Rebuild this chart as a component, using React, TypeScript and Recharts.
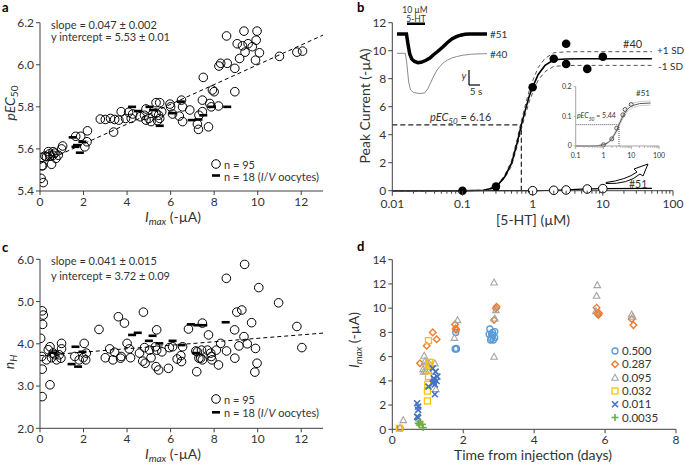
import React from 'react';
import { ComposedChart, Scatter, Line, XAxis, YAxis, ReferenceLine } from 'recharts';

const FONT = 'Lato, "Open Sans", sans-serif';
const AXIS = '#404040';
const TXT = '#333';

// ---- panel a: pEC50 vs Imax ----
const aCircles = [
  [0.05, 5.46], [0.15, 5.44], [0.08, 5.52], [0.12, 5.52], [0.08, 5.56], [0.23, 5.566], [0.43, 5.576], [0.6, 5.587],
  [0.46, 5.566], [0.53, 5.527], [0.73, 5.555], [0.84, 5.57], [0.99, 5.6], [1.04, 5.614], [0.6, 5.57], [0.3, 5.563],
  [0.38, 5.587], [0.68, 5.58], [1.64, 5.66], [1.87, 5.66], [2.06, 5.61], [2.16, 5.634], [2.18, 5.686], [2.77, 5.742],
  [3.0, 5.74], [3.24, 5.745], [3.43, 5.74], [3.38, 5.68], [3.62, 5.737], [3.73, 5.777], [3.93, 5.745], [4.07, 5.774],
  [4.19, 5.745], [4.26, 5.766], [4.6, 5.753], [4.8, 5.76], [4.87, 5.79], [4.87, 5.737], [5.0, 5.745], [5.1, 5.73],
  [5.33, 5.77], [5.4, 5.734], [5.33, 5.82], [5.5, 5.82], [5.59, 5.777], [5.5, 5.745], [5.45, 5.76], [5.97, 5.813],
  [6.0, 5.8], [6.09, 5.766], [6.4, 5.756], [6.5, 5.832], [6.55, 5.8], [6.55, 5.73], [6.88, 5.785], [7.23, 5.718],
  [7.28, 5.693], [7.3, 5.76], [7.46, 5.832], [7.5, 5.94], [7.46, 5.777], [7.74, 5.705], [7.8, 5.816], [7.87, 5.8],
  [7.92, 5.88], [8.0, 5.872], [8.2, 5.804], [8.22, 5.994], [8.3, 6.007], [8.57, 6.137], [8.6, 6.007], [8.95, 5.983],
  [8.95, 5.872], [9.06, 6.1], [9.17, 6.03], [9.3, 6.09], [9.37, 6.16], [9.42, 6.06], [9.56, 6.1], [9.75, 6.086],
  [9.9, 6.022], [9.93, 6.117], [9.97, 6.16], [10.08, 6.057], [11.0, 6.04], [11.8, 6.06], [12.06, 6.065],
];
const aDashes = [
  [1.5, 5.655], [1.7, 5.618], [1.83, 5.582], [1.95, 5.634], [1.63, 5.61], [4.23, 5.8], [4.5, 5.78], [5.03, 5.8],
  [5.2, 5.785], [5.5, 5.71], [6.09, 5.77], [6.47, 5.825], [6.97, 5.737], [7.28, 5.74], [7.5, 5.76], [7.89, 5.8],
  [8.6, 5.8],
];
const aFit = [[0, 5.53], [13, 6.141]];

// ---- panel c: nH vs Imax ----
const cCircles = [
  [0.03, 4.13], [0.08, 3.7], [0.1, 4.78], [0.15, 4.68], [0.12, 4.46], [0.1, 3.4], [0.1, 2.75], [0.46, 3.03],
  [0.3, 3.62], [0.38, 3.86], [0.46, 3.93], [0.53, 3.67], [0.6, 3.78], [0.68, 3.74], [0.76, 3.62], [0.88, 3.74],
  [0.99, 4.01], [0.99, 3.88], [0.96, 3.66], [1.6, 3.7], [1.8, 3.62], [1.98, 3.67], [2.03, 4.01], [2.1, 3.62],
  [2.13, 3.78], [2.71, 4.34], [3.0, 3.67], [3.2, 3.88], [3.35, 3.62], [3.43, 3.8], [3.6, 4.64], [3.7, 3.66],
  [3.73, 3.7], [3.88, 4.49], [4.0, 4.01], [4.1, 3.88], [4.16, 3.67], [4.57, 3.78], [4.75, 4.75], [4.72, 3.59],
  [4.83, 3.54], [4.8, 3.91], [5.03, 3.85], [5.1, 3.67], [5.3, 3.93], [5.36, 4.33], [5.36, 3.85], [5.33, 3.46],
  [5.45, 3.38], [5.6, 3.81], [5.9, 3.42], [5.94, 3.91], [6.09, 3.93], [6.3, 3.64], [6.47, 3.72], [6.5, 3.58],
  [6.55, 3.93], [6.82, 4.35], [7.16, 3.83], [7.2, 3.34], [7.23, 3.81], [7.3, 3.66], [7.42, 3.85], [7.46, 4.49],
  [7.38, 3.66], [7.46, 3.62], [7.69, 3.85], [7.74, 4.21], [7.84, 3.78], [7.87, 3.7], [7.9, 3.62], [8.2, 3.5],
  [8.1, 3.85], [8.3, 4.01], [8.56, 5.55], [8.57, 3.83], [8.94, 4.33], [8.95, 3.66], [9.04, 4.75], [9.14, 3.95],
  [9.27, 4.8], [9.37, 4.17], [9.4, 5.88], [9.52, 4.0], [9.72, 4.5], [9.9, 3.89], [9.87, 3.33], [9.97, 3.54],
  [10.05, 5.33], [10.96, 4.97], [11.8, 4.41], [12.03, 3.91],
];
const cDashes = [
  [1.45, 3.52], [1.63, 3.93], [1.75, 3.46], [1.95, 3.81], [0.6, 3.79], [4.23, 4.21], [4.49, 4.26], [5.0, 4.07],
  [5.17, 4.19], [5.48, 4.01], [6.09, 4.07], [6.5, 3.97], [6.93, 4.46], [7.23, 4.44], [7.5, 4.44], [8.53, 4.51],
  [7.16, 3.78],
];
const cFit = [[0, 3.72], [13, 4.253]];

// ---- panel b: concentration-response ----
const bDots40 = [[0.1, 0], [0.3, 0.29], [1, 7.39], [2, 9.42], [3, 10.5], [3, 9.05], [6, 8.7], [10, 9.57]];
const bDots51 = [[1, 0], [2, 0.03], [3, 0.05], [6, 0.12], [10, 0.15]];
const bFitX = [0.01, 0.1, 0.2, 0.3, 0.4, 0.5, 0.6, 0.69, 0.8, 0.9, 1, 1.2, 1.5, 2, 3, 5, 10, 50];
const bFit40 = [0, 0, 0.03, 0.25, 1.0, 1.95, 3.4, 4.7, 5.9, 6.8, 7.4, 8.3, 8.95, 9.35, 9.41, 9.42, 9.42, 9.42];
const bFitHi = [0, 0, 0.04, 0.3, 1.1, 2.15, 3.65, 5.0, 6.25, 7.2, 7.85, 8.8, 9.45, 9.85, 9.92, 9.93, 9.93, 9.93];
const bFitLo = [0, 0, 0.02, 0.2, 0.9, 1.75, 3.15, 4.4, 5.55, 6.4, 7.0, 7.9, 8.5, 8.88, 8.94, 8.95, 8.95, 8.95];
const bFit51 = [0, 0, 0, 0, 0, 0, 0, 0, 0.001, 0.002, 0.004, 0.008, 0.015, 0.03, 0.06, 0.11, 0.15, 0.17];
const bEC50 = 0.69;
const bHalf = 4.7;

// inset (#51 alone)
const insX = [0.1, 0.5, 1, 1.5, 2, 3, 3.63, 5, 7, 10, 20, 50];
const insFit = [0, 0, 0.004, 0.012, 0.024, 0.052, 0.072, 0.1, 0.122, 0.135, 0.143, 0.145];
const insHi = [0, 0, 0.005, 0.014, 0.027, 0.057, 0.078, 0.107, 0.13, 0.143, 0.15, 0.152];
const insLo = [0, 0, 0.003, 0.01, 0.021, 0.047, 0.066, 0.093, 0.114, 0.127, 0.136, 0.138];
const insDots = [[1, 0.004], [2, 0.024], [3, 0.06], [5, 0.105], [6, 0.123], [10, 0.14]];
const insEC50 = 3.63;
const insHalf = 0.072;

// current traces (time in s, current in arbitrary units)
const tr51 = [
  [0, 0], [4.3, 0], [5, -10], [5.8, -20], [6.7, -25], [8, -27.5], [9.5, -28.7], [11, -28.3], [13, -26.5],
  [15, -24], [16.5, -21], [18.5, -17.5], [21, -12.7], [23, -8.5], [25, -5], [27, -2.7], [29, -1.2], [31, -0.3],
  [33, 0], [41, 0],
];
const tr40 = [
  [0, -19.3], [3.8, -19.3], [4.5, -30], [5.3, -48], [6.2, -56], [7.5, -58.5], [10, -59.5], [12.5, -59],
  [14, -55], [15.5, -48], [16.5, -43], [18, -37], [19.5, -32.5], [21, -29], [23, -26], [25, -24], [27, -22.7],
  [30, -21.2], [34, -20.2], [41, -19.6],
];

// ---- panel d: Imax vs time ----
const d500 = [
  [0.22, 0.08], [1.79, 8.0], [1.8, 6.68], [1.77, 6.63], [1.81, 6.63], [2.75, 8.28], [2.8, 7.84], [2.83, 8.0],
  [2.89, 8.06], [2.73, 7.84], [2.77, 7.37], [2.8, 7.5], [2.89, 7.56], [2.83, 7.78], [2.85, 7.37],
];
const d287 = [
  [0.78, 5.45], [0.97, 6.9], [1.14, 8.0], [1.25, 7.43], [1.77, 8.66], [1.79, 8.33], [1.8, 8.2], [2.87, 9.02],
  [2.94, 10.12], [2.92, 9.98], [5.76, 10.04], [5.78, 9.57], [5.81, 9.43], [5.83, 9.57], [6.75, 9.1], [6.8, 8.6],
];
const d095 = [
  [0.31, 0.77], [0.22, 0.14], [0.9, 6.08], [0.92, 5.64], [0.87, 4.98], [0.95, 4.81], [0.99, 5.17], [1.04, 5.45],
  [1.2, 5.45], [1.23, 3.33], [0.89, 4.76], [0.97, 5.53], [1.75, 7.56], [1.84, 9.02], [2.87, 12.13], [2.87, 6.0],
  [2.89, 9.16], [2.92, 9.85], [5.78, 11.91], [5.76, 11.03], [5.74, 9.76], [6.75, 9.49], [6.78, 9.3],
];
const d032 = [
  [1.02, 7.32], [1.06, 5.53], [1.02, 4.9], [1.02, 4.35], [1.0, 3.71], [0.99, 3.16], [0.99, 2.34], [0.2, 0.08],
  [1.04, 5.3],
];
const d011 = [
  [0.7, 2.15], [0.73, 1.87], [0.73, 1.6], [0.7, 1.05], [0.73, 0.96], [1.02, 3.52], [1.14, 5.03], [1.17, 4.2],
  [1.17, 3.93], [1.2, 3.71], [1.25, 3.99], [1.22, 4.76], [1.2, 2.89], [1.14, 3.8], [1.27, 4.35], [1.18, 4.15],
];
const d0035 = [[0.73, 0.5], [0.78, 0.63], [0.85, 0.41], [0.87, 0.14], [0.76, 0.36]];
const dLabels = ['0.500', '0.287', '0.095', '0.032', '0.011', '0.0035'];
const dColors = ['#5B9BD5', '#ED7D31', '#A5A5A5', '#FFC000', '#4472C4', '#70AD47'];
const dKinds = ['circle', 'diamond', 'triangle', 'square', 'cross', 'plus'];

const LOG_MAJOR = [0.01, 0.1, 1, 10, 100];
const LOG_STEPS = [2, 3, 4, 5, 6, 7, 8, 9];
const logTicks = (lo: number, hi: number) => {
  const out: number[] = [];
  LOG_MAJOR.filter((d) => d >= lo && d <= hi).forEach((d) => {
    out.push(d);
    if (d < hi) LOG_STEPS.forEach((m) => out.push(+(d * m).toPrecision(3)));
  });
  return out;
};

const pts = (arr: number[][]) => arr.map(([x, y]) => ({ x, y }));

const OpenCircle = (r: number, stroke = '#000') => (p: any) => (
  <circle cx={p.cx} cy={p.cy} r={r} fill="none" stroke={stroke} strokeWidth={1} />
);
const FilledCircle = (p: any) => <circle cx={p.cx} cy={p.cy} r={4.3} fill="#000" />;
const Dash = (p: any) => <rect x={p.cx - 4} y={p.cy - 1.3} width={8} height={2.6} fill="#000" />;

function marker(kind: string, cx: number, cy: number, color: string) {
  const s = 3.3;
  switch (kind) {
    case 'circle':
      return <circle cx={cx} cy={cy} r={3} fill="none" stroke={color} strokeWidth={1.3} />;
    case 'diamond':
      return (
        <polygon points={`${cx},${cy - s} ${cx + s},${cy} ${cx},${cy + s} ${cx - s},${cy}`} fill="none" stroke={color} strokeWidth={1.4} />
      );
    case 'triangle':
      return (
        <polygon points={`${cx},${cy - s} ${cx + s},${cy + s * 0.8} ${cx - s},${cy + s * 0.8}`} fill="none" stroke={color} strokeWidth={1.1} />
      );
    case 'square':
      return <rect x={cx - 3} y={cy - 3} width={6} height={6} fill="none" stroke={color} strokeWidth={1.3} />;
    case 'cross':
      return (
        <g stroke={color} strokeWidth={1.6}>
          <line x1={cx - 3} y1={cy - 3} x2={cx + 3} y2={cy + 3} />
          <line x1={cx - 3} y1={cy + 3} x2={cx + 3} y2={cy - 3} />
        </g>
      );
    default:
      return (
        <g stroke={color} strokeWidth={1.6}>
          <line x1={cx - 3.5} y1={cy} x2={cx + 3.5} y2={cy} />
          <line x1={cx} y1={cy - 3.5} x2={cx} y2={cy + 3.5} />
        </g>
      );
  }
}

const LogTick = (props: any) => {
  const { x, y, payload, fs, color, len } = props;
  const isMajor = LOG_MAJOR.includes(payload.value);
  return (
    <g>
      <line x1={x} x2={x} y1={y} y2={y + (isMajor ? len : len * 0.6)} stroke={color} />
      {isMajor && (
        <text x={x} y={y + len + 3} dy="0.8em" textAnchor="middle" fontSize={fs} fill={TXT} fontFamily={FONT}>
          {payload.value}
        </text>
      )}
    </g>
  );
};

type TProps = { x: number; y: number; size?: number; center?: boolean; rot?: boolean; bold?: boolean; italic?: boolean; color?: string; children: React.ReactNode };
const T = ({ x, y, size = 11, center, rot, bold, italic, color = TXT, children }: TProps) => (
  <div
    style={{
      position: 'absolute', left: x, top: y, fontSize: size, lineHeight: 1, whiteSpace: 'nowrap', color,
      fontWeight: bold ? 700 : 400, fontStyle: italic ? 'italic' : 'normal',
      transform: `translate(${center || rot ? '-50%' : '0'}, -50%)${rot ? ' rotate(-90deg)' : ''}`,
    }}
  >
    {children}
  </div>
);
const Sub = ({ children, size = 9 }: { children: React.ReactNode; size?: number }) => (
  <span style={{ fontSize: size, verticalAlign: -3 }}>{children}</span>
);

const axisProps = { stroke: AXIS, tick: { fill: TXT, fontSize: 12, fontFamily: FONT }, tickSize: 4, tickMargin: 2, interval: 0 as const };

const box = (left: number, top: number): React.CSSProperties => ({ position: 'absolute', left, top });

function PanelScatter({ top, circles, dashes, fit, yDomain, yTicks }: any) {
  const first = top === 0;
  return (
    <div style={box(0, top)}>
      <ComposedChart width={335} height={first ? 230 : 235} margin={{ top: first ? 22.7 : 29.3, right: 12, bottom: first ? 9 : 6.7, left: 0 }}>
        <XAxis type="number" dataKey="x" height={30} domain={[0, 13]} ticks={[0, 2, 4, 6, 8, 10, 12]} allowDataOverflow {...axisProps} />
        <YAxis type="number" width={40} domain={yDomain} ticks={yTicks} tickFormatter={(v: number) => v.toFixed(1)} allowDataOverflow {...axisProps} />
        <ReferenceLine segment={[{ x: fit[0][0], y: fit[0][1] }, { x: fit[1][0], y: fit[1][1] }]} stroke="#000" strokeDasharray="4 3" />
        <Scatter data={pts(circles)} dataKey="y" shape={OpenCircle(4.3)} isAnimationActive={false} />
        <Scatter data={pts(dashes)} dataKey="y" shape={Dash} isAnimationActive={false} />
      </ComposedChart>
    </div>
  );
}

export default function App() {
  const bRows = bFitX.map((x, i) => ({ x, m: bFit40[i], hi: bFitHi[i], lo: bFitLo[i], s: bFit51[i] }));
  const insRows = insX.map((x, i) => ({ x, m: insFit[i], hi: insHi[i], lo: insLo[i] }));
  const dSeries = [d500, d287, d095, d032, d011, d0035];

  return (
    <div style={{ position: 'absolute', left: 0, top: 0, width: 685, height: 465, background: '#fff', fontFamily: FONT, overflow: 'hidden' }}>
      {/* a */}
      <PanelScatter top={0} circles={aCircles} dashes={aDashes} fit={aFit} yDomain={[5.4, 6.2]} yTicks={[5.4, 5.6, 5.8, 6.0, 6.2]} />
      {/* c */}
      <PanelScatter top={230} circles={cCircles} dashes={cDashes} fit={cFit} yDomain={[2, 6]} yTicks={[2, 3, 4, 5, 6]} />

      {/* b main */}
      <div style={box(345, 0)}>
        <ComposedChart width={340} height={230} data={bRows} margin={{ top: 22.7, right: 12, bottom: 9.3, left: 0 }}>
          <XAxis
            type="number" dataKey="x" scale="log" domain={[0.01, 100]} ticks={logTicks(0.01, 100)} interval={0} height={30}
            allowDataOverflow stroke={AXIS} tickLine={false} tickSize={0} tickMargin={0}
            tick={(p: any) => <LogTick {...p} fs={12} color={AXIS} len={5} />}
          />
          <YAxis type="number" width={47.3} domain={[0, 12]} ticks={[0, 2, 4, 6, 8, 10, 12]} {...axisProps} />
          <ReferenceLine segment={[{ x: 0.01, y: bHalf }, { x: bEC50, y: bHalf }]} stroke="#222" strokeDasharray="5 3" strokeWidth={1.2} />
          <ReferenceLine segment={[{ x: bEC50, y: 0 }, { x: bEC50, y: bHalf }]} stroke="#222" strokeDasharray="5 3" strokeWidth={1.2} />
          <Line dataKey="hi" stroke="#555" strokeDasharray="4 3" strokeWidth={1} dot={false} isAnimationActive={false} />
          <Line dataKey="lo" stroke="#555" strokeDasharray="4 3" strokeWidth={1} dot={false} isAnimationActive={false} />
          <Line dataKey="m" stroke="#000" strokeWidth={1.6} dot={false} isAnimationActive={false} />
          <Line dataKey="s" stroke="#000" strokeWidth={1.2} dot={false} isAnimationActive={false} />
          <Scatter data={pts(bDots40)} dataKey="y" shape={FilledCircle} isAnimationActive={false} />
          <Scatter data={pts(bDots51)} dataKey="y" shape={(p: any) => <circle cx={p.cx} cy={p.cy} r={4.3} fill="#fff" stroke="#000" />} isAnimationActive={false} />
        </ComposedChart>
      </div>

      {/* b current traces */}
      <div style={box(397, 30)}>
        <ComposedChart width={92} height={68} margin={{ top: 4, right: 2, bottom: 4, left: 0 }}>
          <XAxis type="number" dataKey="x" domain={[0, 41]} hide />
          <YAxis type="number" domain={[-60, 0]} hide />
          <Line data={pts(tr40)} dataKey="y" stroke="#8c8c8c" strokeWidth={1} dot={false} isAnimationActive={false} />
          <Line data={pts(tr51)} dataKey="y" stroke="#000" strokeWidth={3.5} dot={false} isAnimationActive={false} />
        </ComposedChart>
      </div>

      {/* b inset */}
      <div style={box(555, 80)}>
        <ComposedChart width={110} height={80} data={insRows} margin={{ top: 6.7, right: 6, bottom: 0, left: 0 }}>
          <XAxis
            type="number" dataKey="x" scale="log" domain={[0.1, 100]} ticks={logTicks(0.1, 100)} interval={0} height={14}
            allowDataOverflow stroke="#A6A6A6" tickLine={false} tickSize={0} tickMargin={0}
            tick={(p: any) => <LogTick {...p} fs={7} color="#A6A6A6" len={3} />}
          />
          <YAxis type="number" width={20.7} domain={[0, 0.2]} ticks={[0, 0.1, 0.2]} interval={0} stroke="#A6A6A6" tickSize={2} tickMargin={2}
            tick={{ fill: TXT, fontSize: 7, fontFamily: FONT }} />
          <ReferenceLine segment={[{ x: 0.1, y: insHalf }, { x: insEC50, y: insHalf }]} stroke="#555" strokeDasharray="1 1" />
          <ReferenceLine segment={[{ x: insEC50, y: 0 }, { x: insEC50, y: insHalf }]} stroke="#555" strokeDasharray="1 1" />
          <Line dataKey="hi" stroke="#bfbfbf" strokeWidth={0.8} dot={false} isAnimationActive={false} />
          <Line dataKey="lo" stroke="#bfbfbf" strokeWidth={0.8} dot={false} isAnimationActive={false} />
          <Line dataKey="m" stroke="#595959" strokeWidth={1} dot={false} isAnimationActive={false} />
          <Scatter data={pts(insDots)} dataKey="y" shape={OpenCircle(2, '#595959')} isAnimationActive={false} />
        </ComposedChart>
      </div>

      {/* d */}
      <div style={box(345, 230)}>
        <ComposedChart width={340} height={235} margin={{ top: 29.7, right: 9, bottom: 5.7, left: 0 }}>
          <XAxis type="number" dataKey="x" height={30} domain={[0, 8]} ticks={[0, 2, 4, 6, 8]} {...axisProps} />
          <YAxis type="number" width={47.3} domain={[0, 14]} ticks={[0, 2, 4, 6, 8, 10, 12, 14]} {...axisProps} />
          {dSeries.map((s, i) => (
            <Scatter key={dLabels[i]} data={pts(s)} dataKey="y" isAnimationActive={false}
              shape={(p: any) => marker(dKinds[i], p.cx, p.cy, dColors[i])} />
          ))}
        </ComposedChart>
      </div>

      {/* overlay graphics */}
      <svg width={685} height={465} style={{ position: 'absolute', left: 0, top: 0, pointerEvents: 'none' }}>
        {/* legends a, c */}
        <circle cx={216} cy={164} r={4.3} fill="none" stroke="#000" />
        <rect x={212} y={174.2} width={8} height={2.6} fill="#000" />
        <circle cx={216} cy={399} r={4.3} fill="none" stroke="#000" />
        <rect x={212} y={411} width={8} height={2.6} fill="#000" />
        {/* stimulus bar and scale bar */}
        <rect x={407} y={22.5} width={18} height={2.5} fill="#000" />
        <line x1={469} y1={70} x2={469} y2={85} stroke="#000" strokeWidth={1.2} />
        <line x1={469} y1={85} x2={480} y2={85} stroke="#000" strokeWidth={1.2} />
        {/* arrow */}
        <path d="M 606 182.5 Q 626 180 637 172 L 634 169 L 648 164 L 643 176 L 640 174 Q 628 184.5 606 183.5 Z" fill="#fff" stroke="#000" strokeWidth={1} />
        {/* legend d */}
        {dLabels.map((l, i) => <g key={l}>{marker(dKinds[i], 615, 351 + i * 13.3, dColors[i])}</g>)}
      </svg>

      {/* texts a */}
      <T x={2} y={7} size={13} bold color="#000">a</T>
      <T x={51} y={24}>slope = 0.047 ± 0.002</T>
      <T x={51} y={35.5}>y intercept = 5.53 ± 0.01</T>
      <T x={11} y={103} size={14} rot><i>pEC</i><Sub size={10}>50</Sub></T>
      <T x={173} y={218} size={14} center><i>I</i><Sub size={10}><i>max</i></Sub> (-µA)</T>
      <T x={224} y={164}>n = 95</T>
      <T x={224} y={175.5}>n = 18 (<i>I</i>/<i>V</i> oocytes)</T>

      {/* texts b */}
      <T x={357} y={7} size={13} bold color="#000">b</T>
      <T x={365} y={106} size={14} rot>Peak Current (-µA)</T>
      <T x={533} y={220} size={14} center>[5-HT] (µM)</T>
      <T x={415} y={9.5} size={8.5} center>10 µM</T>
      <T x={416} y={18.5} size={8.5} center>5-HT</T>
      <T x={490} y={34} size={10}>#51</T>
      <T x={490} y={54} size={10}>#40</T>
      <T x={464} y={75} size={10} italic center>y</T>
      <T x={476} y={91} size={10} center>5 s</T>
      <T x={623} y={43} size={11}>#40</T>
      <T x={657} y={50} size={10}>+1 SD</T>
      <T x={658} y={66} size={10}>-1 SD</T>
      <T x={430} y={118} size={11}><i>pEC</i><Sub size={8}><i>50</i></Sub> = 6.16</T>
      <T x={629} y={184} size={10.5}>#51</T>
      <T x={636} y={93} size={8}>#51</T>
      <T x={577} y={117} size={7}><i>pEC</i><Sub size={5}><i>50</i></Sub> = 5.44</T>

      {/* texts c */}
      <T x={2} y={247} size={13} bold color="#000">c</T>
      <T x={51} y={260}>slope = 0.041 ± 0.015</T>
      <T x={51} y={275}>y intercept = 3.72 ± 0.09</T>
      <T x={10} y={362} size={14} rot><i>n</i><Sub size={10}><i>H</i></Sub></T>
      <T x={173} y={455} size={14} center><i>I</i><Sub size={10}><i>max</i></Sub> (-µA)</T>
      <T x={224} y={399}>n = 95</T>
      <T x={224} y={412}>n = 18 (<i>I</i>/<i>V</i> oocytes)</T>

      {/* texts d */}
      <T x={357} y={246} size={13} bold color="#000">d</T>
      <T x={355} y={340} size={14} rot><i>I</i><Sub size={10}><i>max</i></Sub> (-µA)</T>
      <T x={533} y={455} size={14} center>Time from injection (days)</T>
      {dLabels.map((l, i) => (
        <T key={l} x={622} y={351 + i * 13.3} size={11.5}>{l}</T>
      ))}
    </div>
  );
}
